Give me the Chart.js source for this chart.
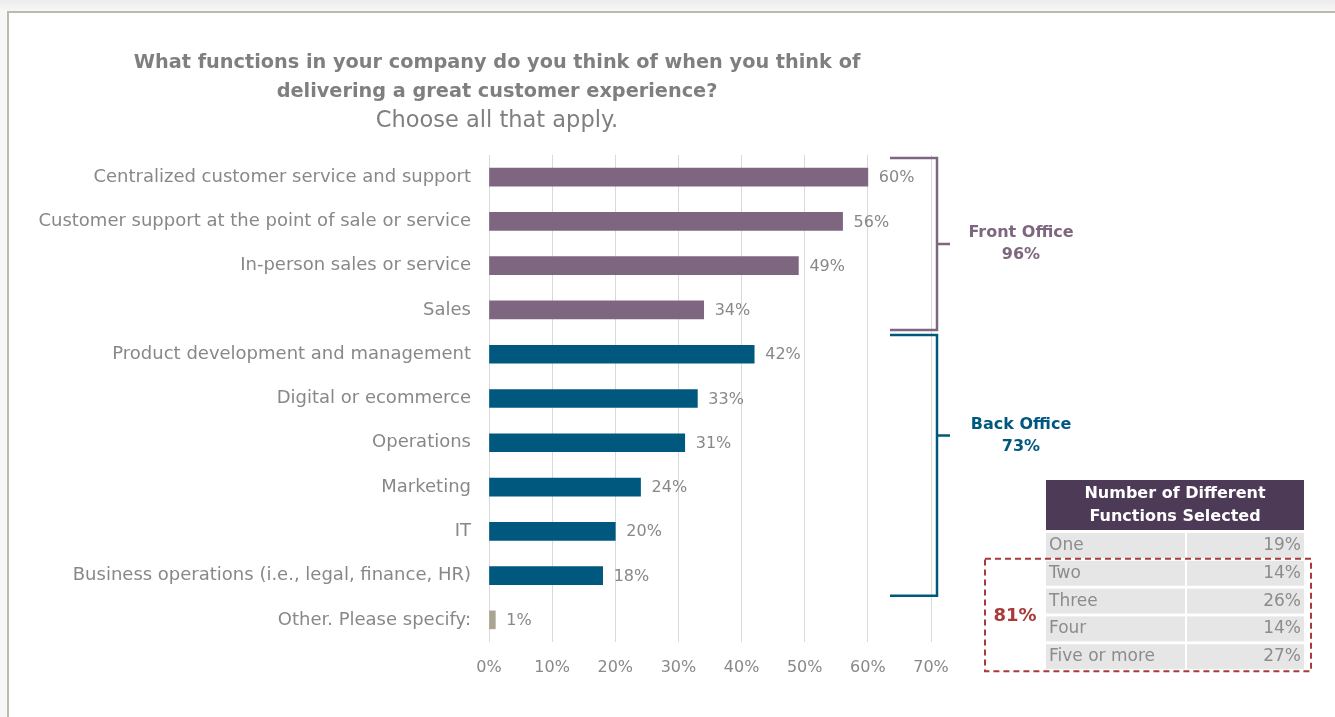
<!DOCTYPE html>
<html>
<head>
<meta charset="utf-8">
<title>Customer experience functions</title>
<script src="https://cdn.jsdelivr.net/npm/chart.js@4.4.1/dist/chart.umd.min.js"></script>
<style>
  html, body { margin: 0; padding: 0; }
  body {
    width: 1335px; height: 717px; overflow: hidden; position: relative;
    background: linear-gradient(#ececec, #f7f7f7 11px);
  }
  #panel {
    position: absolute; left: 7px; top: 11px; right: -10px; bottom: -10px;
    background: #fff;
    border-top: 2px solid #bdb9ab;
    border-left: 2px solid #bdb9ab;
  }
  #chart { position: absolute; left: 0; top: 0; }
</style>
</head>
<body>
<div id="panel"></div>
<canvas id="chart" width="1335" height="717"></canvas>
<script>
// Survey answers (% of respondents)
const categories = [
  'Centralized customer service and support',
  'Customer support at the point of sale or service',
  'In-person sales or service',
  'Sales',
  'Product development and management',
  'Digital or ecommerce',
  'Operations',
  'Marketing',
  'IT',
  'Business operations (i.e., legal, finance, HR)',
  'Other. Please specify:'
];
const values = [60, 56, 49, 34, 42, 33, 31, 24, 20, 18, 1];
const xTicks = [0, 10, 20, 30, 40, 50, 60, 70];

// Groupings shown by the brackets (index ranges into categories)
const groupNames = ['Front Office', 'Back Office'];
const groupTotals = [96, 73];
const groupRanges = [[0, 3], [4, 9]];

// Side table: how many different functions were picked
const tableHeader = ['Number of Different', 'Functions Selected'];
const tableLabels = ['One', 'Two', 'Three', 'Four', 'Five or more'];
const tableValues = [19, 14, 26, 14, 27];

const FONT = '"DejaVu Sans", sans-serif';
const GREY = '#888888';
const PURPLE = '#7e6680';
const TEAL = '#00587f';
const OTHER = '#aaa492';
const groupColors = [PURPLE, TEAL];
// where along each bracket the pointer tick sits (0 = top, 1 = bottom)
const tickAt = [0.5, 0.385];

function barColor(i) {
  for (let g = 0; g < groupRanges.length; g++) {
    if (i >= groupRanges[g][0] && i <= groupRanges[g][1]) return groupColors[g];
  }
  return OTHER;
}

// Heading above the bars
const headingPlugin = {
  id: 'heading',
  afterDraw(chart) {
    const c = chart.ctx;
    c.save();
    c.fillStyle = '#7f7f7f';
    c.textAlign = 'center';
    c.textBaseline = 'middle';
    c.font = 'bold 19.3px ' + FONT;
    c.fillText('What functions in your company do you think of when you think of', 497, 63);
    c.fillText('delivering a great customer experience?', 497, 92);
    c.font = '22.5px ' + FONT;
    c.fillText('Choose all that apply.', 497, 121);
    c.restore();
  }
};

// Value labels at the end of each bar
const valueLabels = {
  id: 'valueLabels',
  afterDatasetsDraw(chart) {
    const c = chart.ctx;
    const bars = chart.getDatasetMeta(0).data;
    c.save();
    c.fillStyle = GREY;
    c.font = '16px ' + FONT;
    c.textBaseline = 'middle';
    bars.forEach((bar, i) => {
      c.fillText(values[i] + '%', bar.x + 11, bar.y + 1);
    });
    c.restore();
  }
};

// Brackets grouping front / back office functions
const brackets = {
  id: 'brackets',
  afterDraw(chart) {
    const c = chart.ctx;
    const y = chart.scales.y;
    const area = chart.chartArea;
    const half = (y.getPixelForValue(1) - y.getPixelForValue(0)) / 2;
    const xl = area.right - 41, xv = area.right + 6, xt = area.right + 19;
    c.save();
    groupRanges.forEach((r, g) => {
      const top = y.getPixelForValue(r[0]) - half + 3;
      const bot = y.getPixelForValue(r[1]) + half - 2;
      const mid = top + (bot - top) * tickAt[g];
      c.strokeStyle = groupColors[g];
      c.lineWidth = 2.5;
      c.beginPath();
      c.moveTo(xl, top); c.lineTo(xv, top); c.lineTo(xv, bot); c.lineTo(xl, bot);
      c.moveTo(xv, mid); c.lineTo(xt, mid);
      c.stroke();
      c.fillStyle = groupColors[g];
      c.font = 'bold 16px ' + FONT;
      c.textAlign = 'center';
      c.textBaseline = 'middle';
      c.fillText(groupNames[g], 1021, mid - 11);
      c.fillText(groupTotals[g] + '%', 1021, mid + 11);
    });
    c.restore();
  }
};

// Table of number of functions selected, with the 2+ subtotal box
const sideTable = {
  id: 'sideTable',
  afterDraw(chart) {
    const c = chart.ctx;
    const left = 1046, mid = 1186, right = 1304;
    const headTop = 480, headH = 51, rowH = 27.8, cellH = 25;
    c.save();
    c.fillStyle = '#4d3a57';
    c.fillRect(left, headTop, right - left, headH - 1);
    c.fillStyle = '#fff';
    c.font = 'bold 16px ' + FONT;
    c.textAlign = 'center';
    c.textBaseline = 'middle';
    tableHeader.forEach((t, i) => c.fillText(t, (left + right) / 2, headTop + 14 + i * 23));

    c.font = '17px ' + FONT;
    tableLabels.forEach((lab, i) => {
      const top = headTop + headH + 2 + i * rowH;
      c.fillStyle = '#e7e6e6';
      c.fillRect(left, top, mid - left - 1, cellH);
      c.fillRect(mid + 1, top, right - mid - 1, cellH);
      c.fillStyle = '#8c8c8c';
      c.textAlign = 'left';
      c.fillText(lab, left + 3, top + cellH / 2);
      c.textAlign = 'right';
      c.fillText(tableValues[i] + '%', right - 3, top + cellH / 2);
    });

    // dashed box around two-or-more rows
    const boxTop = headTop + headH + rowH;
    const boxBot = headTop + headH + 2 + 4 * rowH + cellH + 2;
    c.strokeStyle = '#a83a3a';
    c.lineWidth = 2;
    c.setLineDash([6, 4]);
    c.strokeRect(985, boxTop, 1311 - 985, boxBot - boxTop);
    c.setLineDash([]);
    const multi = tableValues.slice(1).reduce((a, b) => a + b, 0);
    c.fillStyle = '#a83a3a';
    c.font = 'bold 18px ' + FONT;
    c.textAlign = 'center';
    c.fillText(multi + '%', 1015, (boxTop + boxBot) / 2 + 1);
    c.restore();
  }
};

function initializeChart() {
  const ctx = document.getElementById('chart').getContext('2d');
  new Chart(ctx, {
    type: 'bar',
    data: {
      labels: categories,
      datasets: [{
        data: values,
        backgroundColor: categories.map((_, i) => barColor(i)),
        barThickness: 18
      }]
    },
    options: {
      indexAxis: 'y',
      responsive: false,
      animation: false,
      layout: { padding: { top: 155, right: 404, bottom: 35, left: 0 } },
      plugins: { legend: { display: false }, tooltip: { enabled: false } },
      scales: {
        x: {
          min: xTicks[0],
          max: xTicks[xTicks.length - 1],
          afterBuildTicks: s => { s.ticks = xTicks.map(v => ({ value: v })); },
          ticks: {
            callback: v => v + '%',
            padding: 16,
            color: GREY,
            font: { family: FONT, size: 16 }
          },
          grid: { color: '#d9d9d9', drawTicks: false },
          border: { display: false },
          afterFit: s => { s.height = 40; }
        },
        y: {
          grid: { display: false },
          border: { display: false },
          ticks: {
            padding: 10,
            color: GREY,
            font: { family: FONT, size: 18 }
          },
          afterFit: s => { s.width = 489; }
        }
      }
    },
    plugins: [headingPlugin, valueLabels, brackets, sideTable]
  });
}

document.addEventListener('DOMContentLoaded', initializeChart);
</script>
</body>
</html>
